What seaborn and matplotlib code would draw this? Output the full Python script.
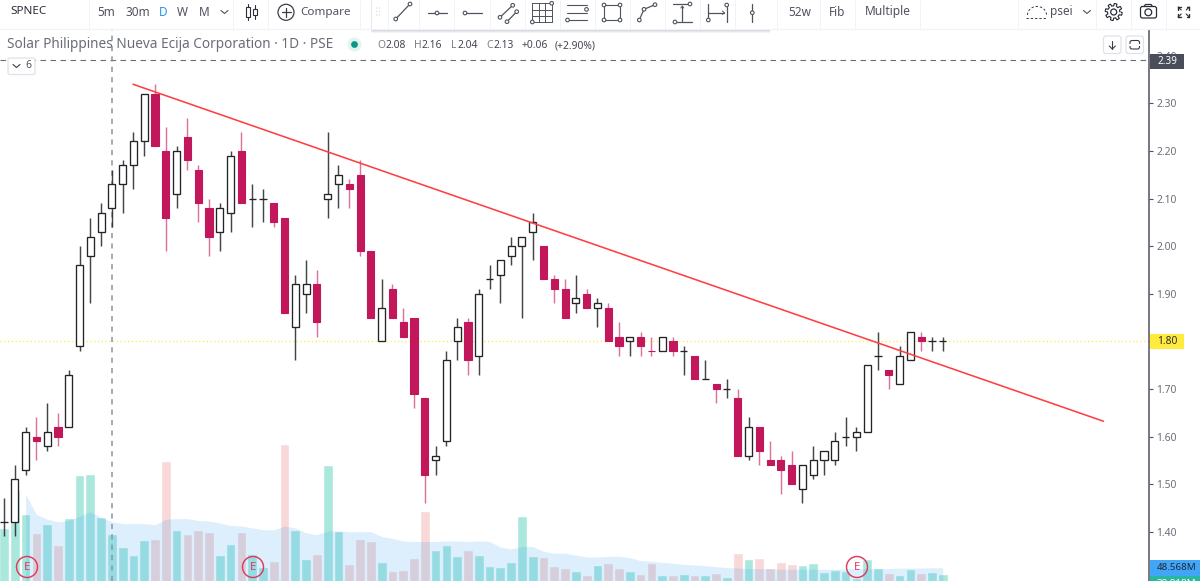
import matplotlib
matplotlib.use("Agg")
import matplotlib.pyplot as plt
from matplotlib.patches import Circle, Rectangle, FancyBboxPatch
import numpy as np
import pandas as pd
import seaborn as sns

# Daily bars, oldest first
opens = [1.42,1.42,1.53,1.60,1.58,1.62,1.62,1.79,1.98,2.03,2.08,2.13,2.17,2.22,2.32,2.20,2.11,2.23,2.16,2.08,
         2.03,2.07,2.20,2.10,2.10,2.09,2.06,1.83,1.90,1.92,2.10,2.13,2.13,2.15,1.99,1.80,1.91,1.84,1.85,1.68,
         1.55,1.59,1.80,1.84,1.77,1.93,1.94,1.98,2.00,2.03,2.00,1.93,1.91,1.88,1.90,1.87,1.87,1.81,1.80,1.81,
         1.78,1.78,1.80,1.78,1.77,1.72,1.71,1.70,1.68,1.56,1.62,1.55,1.55,1.54,1.49,1.52,1.55,1.55,1.60,1.60,
         1.61,1.77,1.74,1.71,1.76,1.81,1.80,1.80]
highs = [1.47,1.54,1.62,1.64,1.67,1.65,1.74,2.00,2.06,2.09,2.16,2.18,2.24,2.32,2.34,2.25,2.21,2.27,2.17,2.10,
         2.09,2.20,2.24,2.13,2.12,2.09,2.06,1.94,1.97,1.95,2.24,2.17,2.14,2.18,1.99,1.93,1.92,1.87,1.85,1.68,
         1.58,1.78,1.85,1.85,1.91,1.96,1.97,2.02,2.02,2.07,2.00,1.94,1.93,1.94,1.91,1.89,1.88,1.84,1.81,1.82,
         1.81,1.81,1.81,1.79,1.77,1.76,1.71,1.72,1.70,1.64,1.62,1.59,1.56,1.57,1.54,1.58,1.57,1.61,1.64,1.62,
         1.75,1.82,1.74,1.79,1.82,1.82,1.81,1.81]
lows = [1.39,1.39,1.52,1.55,1.57,1.58,1.62,1.78,1.88,2.00,2.04,2.07,2.12,2.19,2.21,1.99,2.08,2.16,2.05,1.98,
        1.99,2.03,2.09,2.04,2.05,2.04,1.86,1.76,1.86,1.81,2.06,2.08,2.08,1.98,1.85,1.80,1.85,1.81,1.66,1.46,
        1.52,1.58,1.76,1.73,1.73,1.91,1.88,1.96,1.85,1.97,1.93,1.88,1.85,1.86,1.87,1.83,1.80,1.77,1.77,1.77,
        1.77,1.78,1.77,1.73,1.72,1.72,1.67,1.68,1.56,1.55,1.54,1.54,1.48,1.50,1.46,1.51,1.52,1.54,1.58,1.57,
        1.61,1.74,1.70,1.71,1.76,1.78,1.78,1.78]
closes = [1.42,1.51,1.61,1.59,1.61,1.60,1.73,1.96,2.02,2.07,2.13,2.17,2.22,2.32,2.21,2.06,2.20,2.18,2.09,2.02,
          2.08,2.19,2.09,2.10,2.10,2.05,1.86,1.92,1.92,1.84,2.11,2.15,2.12,1.99,1.85,1.87,1.85,1.81,1.69,1.52,
          1.56,1.76,1.83,1.76,1.90,1.93,1.97,2.00,2.02,2.05,1.93,1.91,1.85,1.89,1.87,1.88,1.80,1.79,1.81,1.79,
          1.78,1.81,1.78,1.78,1.72,1.72,1.70,1.70,1.56,1.62,1.57,1.54,1.53,1.50,1.54,1.55,1.57,1.59,1.60,1.61,
          1.75,1.77,1.73,1.77,1.82,1.80,1.80,1.80]
red_dojis = [60]

# Traded volume and its moving average, millions of shares
volumes = [113,175,136,105,119,85,129,199,200,131,103,82,69,93,95,221,109,103,110,107,
           69,87,107,70,50,60,249,110,62,71,215,108,55,95,92,58,43,45,65,140,
           78,85,67,78,69,52,50,58,133,67,66,52,48,44,37,53,56,48,43,38,
           56,36,36,39,37,36,40,33,72,62,65,48,58,55,53,56,42,45,43,32,
           62,48,40,36,46,40,42,38.818]
volume_ma = [167,135,127,123,125,132,139,130,123,120,120,120,118,127,128,128,125,124,121,117,
             116,113,110,110,116,113,105,102,108,108,107,107,107,99,96,92,91,91,91,92,
             92,91,92,91,82,79,83,83,75,72,72,69,66,66,67,67,65,60,59,57,
             56,54,53,52,50,49,48,47,47,47,46,46,46,46,46,46,47,47,47,47,
             47,48,48,48,48.5,48.568]
ma_start = 2

# Hand-drawn trend line across the swing highs
trend_bars = [11.96, 101.9]
trend_prices = [2.34, 1.632]

price_ticks = [1.40,1.50,1.60,1.70,1.80,1.90,2.00,2.10,2.20,2.30,2.40]
peak_price = 2.39
last_price = 1.80
cursor_bar = 10

sns.set_theme(style="white")
FONT = "Noto Sans"
plt.rcParams["font.family"] = [FONT, "DejaVu Sans"]

UP_EDGE = "#222428"
DOWN = "#c2185b"
GREY = "#50535e"
LINE = "#f0f3fa"

W, H = 1200, 581
fig = plt.figure(figsize=(12, 5.81), dpi=100, facecolor="white")

# Plot area runs from below the header down to the bottom edge, up to the price scale
rect = [0, 0, 1149 / W, (H - 29.5) / H]
vax = fig.add_axes(rect, zorder=1)
ax = fig.add_axes(rect, zorder=2, sharex=vax)
ax.patch.set_visible(False)

frame = pd.DataFrame({
    "bar": np.arange(len(closes)), "open": opens, "high": highs, "low": lows, "close": closes,
    "volume": volumes,
})
frame["falling"] = (frame["close"] < frame["open"]) | frame["bar"].isin(red_dojis)
frame["side"] = np.where(frame["falling"], "down", "up")

# Volume columns with the translucent average behind the candles
sns.barplot(data=frame, x="bar", y="volume", hue="side", native_scale=True, dodge=False, width=0.9,
            palette={"up": "#aae8de", "down": "#f8d8d8"}, saturation=1, legend=False, ax=vax)
ma_bars = frame["bar"].to_numpy()[ma_start:]
vax.fill_between(ma_bars, 0, volume_ma, color="#2196f3", alpha=0.15, lw=0, zorder=3)
vax.set_ylim(27.05, 919.7)
vax.set_xlabel(""); vax.set_ylabel("")
vax.set_yticks([])
sns.despine(ax=vax, left=True, bottom=True, right=True, top=True)

# Candles: wicks, then bodies
for falling, wick_col, alpha in ((False, UP_EDGE, 0.85), (True, DOWN, 0.6)):
    part = frame[frame["falling"] == falling]
    ax.vlines(part["bar"], part["low"], part["high"], color=wick_col, lw=1.05, alpha=alpha, zorder=3)
up = frame[~frame["falling"]]
down = frame[frame["falling"]]
ax.bar(up["bar"], up["close"] - up["open"], bottom=up["open"], width=0.66,
       facecolor="white", edgecolor=UP_EDGE, linewidth=0.95, zorder=4)
ax.bar(down["bar"], down["close"] - down["open"], bottom=down["open"], width=0.66,
       facecolor=DOWN, edgecolor=DOWN, linewidth=0.8, zorder=4)

sns.lineplot(x=trend_bars, y=trend_prices, color="#ff4040", lw=1.15, ax=ax, zorder=5)

ax.axhline(peak_price, color="#6a6d78", lw=0.8, dashes=(5, 4), zorder=2)
ax.axhline(last_price, color="#ffeb3b", lw=0.9, dashes=(1, 2), zorder=2)
ax.axvline(cursor_bar, color="#8a94a6", lw=1.1, dashes=(3.4, 3.4), zorder=2)

ax.set_xlim(-4 / 10.79, 1145 / 10.79)
ax.set_ylim(1.8 - (H - 341.3) / 476, 1.8 + (341.3 - 29.5) / 476)
ax.set_xticks([])
ax.set_xlabel(""); ax.set_ylabel("")
ax.yaxis.tick_right()
ax.set_yticks(price_ticks)
# The last price sits on its own flag, so its plain tick label stays empty
ax.set_yticklabels(["" if p == last_price else f"{p:.2f}" for p in price_ticks])
ax.tick_params(axis="y", right=True, length=3, width=0.8, color=GREY, labelcolor="#6a6d78",
               labelsize=7.4, pad=2.2)
for s in ("top", "left", "bottom"):
    ax.spines[s].set_visible(False)
ax.spines["right"].set_color(GREY)
ax.spines["right"].set_linewidth(1.1)

# Trading-terminal chrome, in pixel coordinates
ov = fig.add_axes([0, 0, 1, 1], zorder=6)
ov.set_xlim(0, W); ov.set_ylim(H, 0); ov.axis("off"); ov.patch.set_visible(False)


def label(x, y, s, size=7.9, color=GREY, weight="normal", ha="left"):
    return ov.text(x, y, s, fontsize=size, color=color, weight=weight, ha=ha, va="center", family=FONT, clip_on=True)


def stroke(xs, ys, color=GREY, lw=0.9, **kw):
    ov.plot(xs, ys, color=color, lw=lw, solid_capstyle="round", **kw)


def dot(x, y, r=1.8, color=GREY):
    ov.add_patch(Circle((x, y), r, facecolor="white", edgecolor=color, lw=0.8, zorder=8))


def chevron(x, y):
    stroke([x - 3.5, x, x + 3.5], [y - 1.5, y + 1.5, y - 1.5], lw=0.8)


# Header row
ov.add_patch(Rectangle((0, 0), W, 29, facecolor="white", edgecolor="none", zorder=0.5))
stroke([0, W], [29, 29], color=LINE, lw=0.9)
for sx in (89, 233, 268, 360, 777, 820, 855, 920, 1018, 1096, 1131, 1166):
    stroke([sx, sx], [0, 29], color=LINE, lw=0.7)
label(10, 12, "SPNEC", size=8.4, color="#2a2e39", weight="bold")
label(97, 12, "5m", size=8.5)
label(125, 12, "30m", size=8.5)
label(159, 12, "D", size=8.5, color="#2196f3")
label(177, 12, "W", size=8.5)
label(199, 12, "M", size=8.5)
chevron(224.5, 12)
label(300, 12, "Compare", size=8.4)
label(788, 12, "52w", size=8.5)
label(829, 12, "Fib", size=8.5)
label(865, 12, "Multiple", size=8.6)
label(1050, 12, "psei", size=8.5)
chevron(1087, 12)

# Candle icon
for cx, top, bot, wt, wb in ((248, 7, 17, 4, 20), (255, 9, 15, 5, 19)):
    stroke([cx, cx], [wt, wb], color="#2a2e39", lw=0.8)
    ov.add_patch(Rectangle((cx - 2, top), 4, bot - top, facecolor="white", edgecolor="#2a2e39", lw=0.8, zorder=8))

# Compare icon
ov.add_patch(Circle((286, 12.3), 8, facecolor="none", edgecolor="#3a3d46", lw=0.9))
stroke([281.5, 290.5], [12.3, 12.3], color="#3a3d46")
stroke([286, 286], [7.8, 16.8], color="#3a3d46")

# Floating drawing toolbar
for off, a in ((3, 0.10), (2, 0.14), (1, 0.2)):
    ov.add_patch(Rectangle((372 - off * 0.3, -2), 397.5 + off * 0.6, 32 + off, facecolor="#9098a8", edgecolor="none", alpha=a, zorder=0.8))
ov.add_patch(Rectangle((372, -2), 397.5, 32, facecolor="white", edgecolor="none", zorder=0.9))
for gy in (8, 11.5, 15):
    for gx in (376.5, 379.5):
        ov.add_patch(Circle((gx, gy), 0.6, facecolor="#cfd3dc", edgecolor="none"))
for sx in (388, 419, 454, 489.5, 525, 560, 595, 630, 665, 700, 735):
    stroke([sx, sx], [0, 29], color=LINE, lw=0.7)
stroke([395.7, 410], [19, 4]); dot(395.7, 19); dot(410, 4)
stroke([428, 447], [13, 13]); dot(437, 13)
stroke([465, 482], [13, 13]); dot(465, 13)
stroke([500, 512.7], [17.3, 5.3]); dot(500, 17.3); dot(512.7, 5.3)
stroke([507, 516.7], [21.7, 11.7]); dot(507, 21.7); dot(516.7, 11.7)
for f in (0, 1 / 3, 2 / 3, 1):
    gx = 532.3 + f * 19.4
    gy = 3.3 + f * 18.7
    stroke([gx, gx], [3.3, 22], lw=0.7)
    stroke([532.3, 551.7], [gy, gy], lw=0.7)
dot(532.3, 22); dot(551.7, 3.3)
for ly in (4.7, 12.7, 20):
    stroke([567, 586.5], [ly, ly], lw=0.8)
dot(586.5, 9.4); dot(567.5, 20)
ov.add_patch(Rectangle((604, 5), 16, 15, facecolor="none", edgecolor=GREY, lw=0.8))
for px, py in ((604, 5), (620, 5), (604, 20), (620, 20)):
    dot(px, py)
stroke([639.3, 644, 655], [20, 9.3, 4.7]); dot(639.3, 20); dot(644, 9.3); dot(655, 4.7)
stroke([673.3, 688], [4, 4]); dot(690, 4)
stroke([677, 691.7], [22, 22]); dot(675, 22)
stroke([682.3, 682.3], [7, 21])
stroke([680.8, 682.3, 683.8], [8, 6, 8], lw=0.7)
stroke([708.3, 708.3], [4, 20]); dot(708.3, 20)
stroke([726.7, 726.7], [7, 22]); dot(726.7, 5)
stroke([708.3, 724], [12.7, 12.7])
stroke([722.3, 724.5, 722.3], [11, 12.7, 14.4], lw=0.7)
stroke([752.3, 752.3], [4, 21.7]); dot(752.3, 12.7)

# Cloud, gear, camera, full screen
cloud_t = np.linspace(np.pi, 0, 40)
stroke(1037 + 9.5 * np.cos(cloud_t), 15 - 9.5 * np.sin(cloud_t) * 0.9, color="#3a3d46", lw=0.7, linestyle=(0, (2.4, 2)))
stroke([1026, 1047], [17.5, 17.5], color="#3a3d46", lw=0.7, linestyle=(0, (2.4, 2)))
gear_t = np.linspace(0, 2 * np.pi, 97)
gear_r = 7.3 + 1.2 * np.sign(np.sin(8 * gear_t))
stroke(1113.7 + gear_r * np.cos(gear_t), 12 + gear_r * np.sin(gear_t), color="#2a2e39", lw=0.8)
ov.add_patch(Circle((1113.7, 12), 3, facecolor="none", edgecolor="#2a2e39", lw=0.9))
ov.add_patch(FancyBboxPatch((1140.5, 6.5), 16, 11.5, boxstyle="round,pad=0,rounding_size=2", facecolor="white", edgecolor="#2a2e39", lw=0.9))
stroke([1144, 1145.5, 1151, 1152.5], [6.5, 4.5, 4.5, 6.5], color="#2a2e39", lw=0.9)
ov.add_patch(Circle((1148.3, 12.3), 3.4, facecolor="none", edgecolor="#2a2e39", lw=0.9))
for dx, dy in ((-1, -1), (1, -1), (-1, 1), (1, 1)):
    tx, ty = 1183.7 + dx * 5.5, 12 + dy * 5
    stroke([tx, tx - dx * 2.6], [ty, ty], color="#2a2e39", lw=1.0)
    stroke([tx, tx], [ty, ty - dy * 2.6], color="#2a2e39", lw=1.0)
    stroke([tx, tx - dx * 3], [ty, ty - dy * 3], color="#2a2e39", lw=0.8)

# Legend line
label(7, 45, "Solar Philippines Nueva Ecija Corporation · 1D · PSE", size=9.8, color="#6a6d78")
ov.add_patch(Circle((354.5, 44.5), 7, facecolor="#e3f3ef", edgecolor="none"))
ov.add_patch(Circle((354.5, 44.5), 3.4, facecolor="#089981", edgecolor="none"))
for x, s, col in ((377, "O", "#7a7d88"), (385.5, "2.08", "#434651"), (414, "H", "#7a7d88"), (422, "2.16", "#434651"),
                  (451, "L", "#7a7d88"), (457.5, "2.04", "#434651"), (486, "C", "#7a7d88"), (493.5, "2.13", "#434651"),
                  (521.7, "+0.06", "#434651"), (555, "(+2.90%)", "#434651")):
    label(x, 45.5, s, size=7.4, color=col)
ov.add_patch(FancyBboxPatch((8, 58), 27, 16.5, boxstyle="round,pad=0,rounding_size=2", facecolor="white", edgecolor="#dfe2e8", lw=0.9, zorder=7))
stroke([13, 16.5, 20], [64.5, 67.5, 64.5], color="#3a3d46", lw=0.8, zorder=8)
label(25, 66, "6", size=7.4, color="#50535e").set_zorder(8)
for bx in (1103.5, 1126):
    ov.add_patch(FancyBboxPatch((bx, 36), 17.5, 17.5, boxstyle="round,pad=0,rounding_size=2.5", facecolor="white", edgecolor="#dfe2e8", lw=0.9))
stroke([1112.3, 1112.3], [41, 49], color="#3a3d46", lw=0.8)
stroke([1109.3, 1112.3, 1115.3], [46, 49, 46], color="#3a3d46", lw=0.8)
ov.add_patch(FancyBboxPatch((1130, 40.5), 9.5, 8.5, boxstyle="round,pad=0,rounding_size=2", facecolor="none", edgecolor="#3a3d46", lw=0.8))
ov.add_patch(Rectangle((1128, 43.5), 13.5, 2.5, facecolor="white", edgecolor="none", zorder=7))

# Earnings markers on the volume pane
for ex in (27, 253, 857):
    ov.add_patch(Circle((ex, 567), 10.5, facecolor="none", edgecolor="#e03a5c", lw=1.05))
    label(ex, 567, "E", size=8.2, color="#e03a5c", ha="center")

# Price and volume flags on the scale
ov.add_patch(Rectangle((1149.5, 54), 34.5, 15, facecolor="#4a4e5a", edgecolor="none", zorder=7))
label(1157, 61.3, f"{peak_price:.2f}", size=7.2, color="white", weight="bold").set_zorder(8)
ov.add_patch(Rectangle((1149.5, 334), 34.5, 15, facecolor="#ffeb3b", edgecolor="none", zorder=7))
label(1157, 341.5, f"{last_price:.2f}", size=7.4, color="#2a2e39").set_zorder(8)
ov.add_patch(Rectangle((1149.5, 560), 50.5, 16, facecolor="#42a5f5", edgecolor="none", zorder=7))
label(1157, 568, f"{volume_ma[-1]:.3f}M", size=7.0, color="#1c2a3a").set_zorder(8)
ov.add_patch(Rectangle((1149.5, 576), 50.5, 6, facecolor="#26b9a0", edgecolor="none", zorder=7))
label(1157, 583.5, f"{volumes[-1]:.3f}M", size=7.0, color="white").set_zorder(8)

fig.savefig("out.png", dpi=100)
